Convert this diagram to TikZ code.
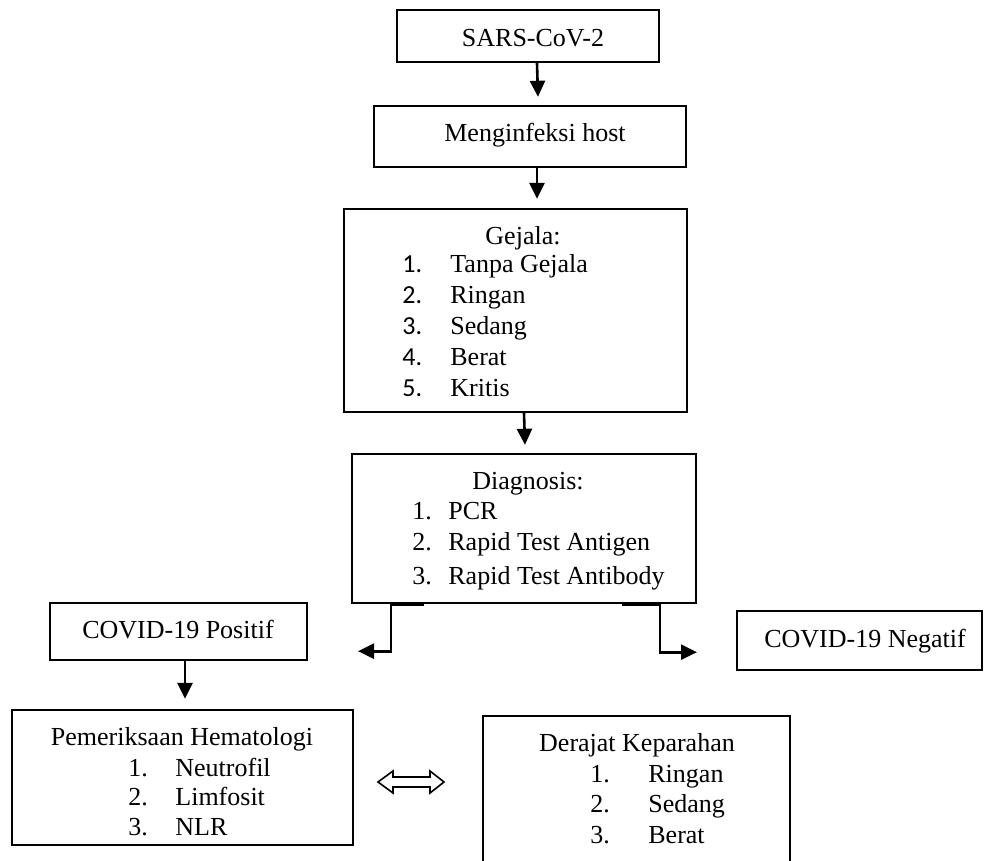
\documentclass[tikz,border=0pt]{standalone}
\usepackage{fontspec}
\setmainfont{Liberation Serif}
\newfontfamily\numfont{Carlito}
\usetikzlibrary{arrows.meta}
\begin{document}
\begin{tikzpicture}[x=0.5pt,y=-0.5pt,
box/.style={draw,line width=1.2pt,inner sep=0pt},
txt/.style={inner sep=0pt,font=\fontsize{13}{15.5}\selectfont},
arr/.style={line width=1.3pt,-{Triangle[length=8pt,width=7.5pt]}}]
\useasboundingbox (0,0) rectangle (992,861);
%boxes
\node[box,minimum width=131pt,minimum height=26pt] (sars) at (528,36) {};
\node[box,minimum width=156pt,minimum height=30.5pt] (host) at (530,136.5) {};
\node[box,minimum width=171.5pt,minimum height=101.5pt] (gej) at (515.5,310.5) {};
\node[box,minimum width=172pt,minimum height=74.5pt] (diag) at (524,528.5) {};
\node[box,minimum width=128.5pt,minimum height=28.5pt] (pos) at (178.5,631.5) {};
\node[box,minimum width=122.5pt,minimum height=29.5pt] (neg) at (859.5,640.5) {};
\node[box,minimum width=170.5pt,minimum height=67.5pt] (hema) at (182.5,777.5) {};
\node[box,minimum width=153.5pt,minimum height=82pt] (dera) at (636.5,798) {};
%texts
\node[txt,anchor=base] (sarst) at (533,47) {SARS-CoV-2};
\node[txt,anchor=base] (hostt) at (535,142) {Menginfeksi host};
\node[txt,anchor=base] (gejt) at (523,245) {Gejala:};
\foreach \t [count=\i] in {Tanpa Gejala,Ringan,Sedang,Berat,Kritis}{
\node[txt,anchor=base west] (gejn\i) at (402,{273+31*(\i-1)}) {\numfont\i.};
\node[txt,anchor=base west] (geji\i) at (450,{273+31*(\i-1)}) {\t};
}
\node[txt,anchor=base] (diagt) at (528,490) {Diagnosis:};
\foreach \t/\y [count=\i] in {PCR/520,Rapid Test Antigen/551,Rapid Test Antibody/584}{
\node[txt,anchor=base west] (diagn\i) at (412,\y) {\i.};
\node[txt,anchor=base west] (diagi\i) at (448,\y) {\t};
}
\node[txt,anchor=base] (post) at (178,639) {COVID-19 Positif};
\node[txt,anchor=base] (negt) at (865,647) {COVID-19 Negatif};
\node[txt,anchor=base] (hemat) at (182,745) {Pemeriksaan Hematologi};
\foreach \t/\y [count=\i] in {Neutrofil/776,Limfosit/805,NLR/835}{
\node[txt,anchor=base west] (heman\i) at (128,\y) {\i.};
\node[txt,anchor=base west] (hemai\i) at (175,\y) {\t};
}
\node[txt,anchor=base] (derat) at (637,751) {Derajat Keparahan};
\foreach \t/\y [count=\i] in {Ringan/782,Sedang/812,Berat/843}{
\node[txt,anchor=base west] (deran\i) at (590,\y) {\i.};
\node[txt,anchor=base west] (derai\i) at (648,\y) {\t};
}
%arrows
\draw[arr] ([xshift=4.5pt]sars.south) -- ([xshift=4pt,yshift=4pt]host.north);
\draw[arr] ([xshift=3.5pt]host.south) -- ([xshift=10.75pt,yshift=4.5pt]gej.north);
\draw[arr] ([xshift=4.25pt]gej.south) -- ([xshift=0.5pt,yshift=4pt]diag.north);
\draw[arr] ([xshift=-50pt]diag.south) -| ++(-33,47) -- ++(-33,0);
\draw[arr] ([xshift=49pt]diag.south) -| ++(38,48) -- ++(37,0);
\draw[arr] ([xshift=3.25pt]pos.south) -- ([xshift=1.25pt,yshift=5pt]hema.north);
%<=>
\draw[line width=0.8pt,fill=white] (378,782) -- (393,771) -- (393,777) -- (430,777)
-- (430,771) -- (444,782) -- (430,793) -- (430,787) -- (393,787) -- (393,793) -- cycle;
\end{tikzpicture}
\end{document}
